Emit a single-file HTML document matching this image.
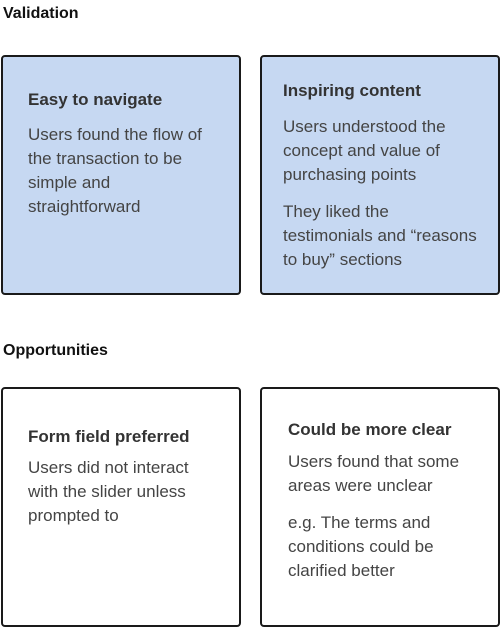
<!DOCTYPE html>
<html><head><style>
body{margin:0;width:500px;height:627px;background:#fff;position:relative;font-family:"Liberation Sans",sans-serif;color:#3c3c3c;overflow:hidden}
.h{position:absolute;left:3px;font-weight:bold;font-size:16px;color:#111}
.b{position:absolute;box-sizing:border-box;border:2px solid #1a1a1a;border-radius:4px;width:240px;height:240px}
.blue{background:#c6d8f2}
.t{position:absolute;font-weight:bold;font-size:17px;color:#333}
.p{position:absolute;font-size:17px;line-height:24px;color:#444}
</style></head><body>
<div class="h" style="top:5px">Validation</div>
<div class="b blue" style="left:1px;top:55px"></div>
<div class="b blue" style="left:260px;top:55px"></div>
<div class="t" style="left:28px;top:90px">Easy to navigate</div>
<div class="p" style="left:28px;top:123px">Users found the flow of<br>the transaction to be<br>simple and<br>straightforward</div>
<div class="t" style="left:283px;top:81px">Inspiring content</div>
<div class="p" style="left:283px;top:115px">Users understood the<br>concept and value of<br>purchasing points</div>
<div class="p" style="left:283px;top:200px">They liked the<br>testimonials and “reasons<br>to buy” sections</div>
<div class="h" style="top:342px">Opportunities</div>
<div class="b" style="left:1px;top:387px"></div>
<div class="b" style="left:260px;top:387px"></div>
<div class="t" style="left:28px;top:427px">Form field preferred</div>
<div class="p" style="left:28px;top:456px">Users did not interact<br>with the slider unless<br>prompted to</div>
<div class="t" style="left:288px;top:420px">Could be more clear</div>
<div class="p" style="left:288px;top:450px">Users found that some<br>areas were unclear</div>
<div class="p" style="left:288px;top:511px">e.g. The terms and<br>conditions could be<br>clarified better</div>
</body></html>
